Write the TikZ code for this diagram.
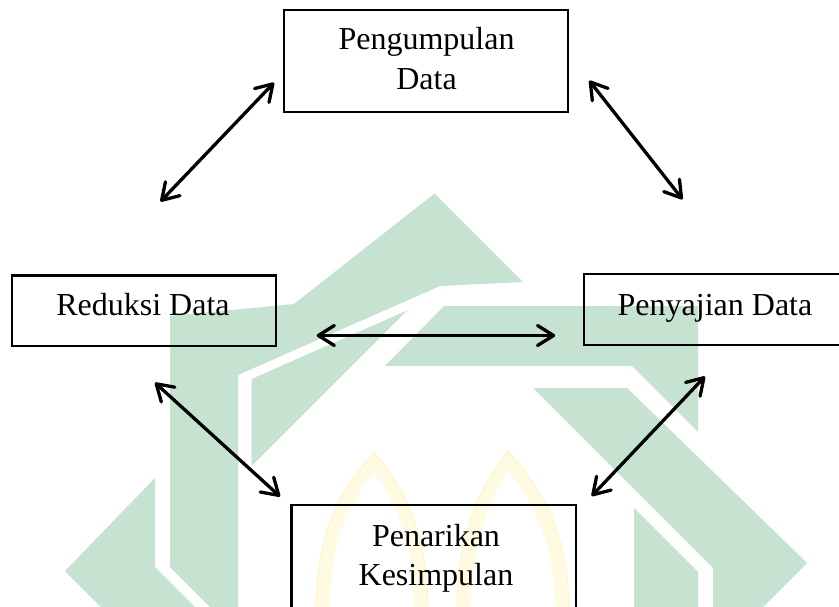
\documentclass[tikz,border=0pt]{standalone}
\usepackage{fontspec}
\setmainfont{Liberation Serif}
\usetikzlibrary{arrows.meta}
\definecolor{wmgreen}{RGB}{198,226,209}
\definecolor{wmyellow}{RGB}{255,251,226}
\definecolor{wmyedge}{RGB}{255,246,200}
\begin{document}
\begin{tikzpicture}[x=1pt,y=-1pt,
  box/.style={draw=black, line width=2.4pt, rectangle, inner sep=0pt},
  lbl/.style={font=\fontsize{32}{39.4}\selectfont, align=center, inner sep=0pt},
  link/.style={line width=3.3pt, line cap=round,
    {Straight Barb[length=16pt,width=20pt,round]}-{Straight Barb[length=16pt,width=20pt,round]}},
  wm/.style={fill=wmgreen, draw=none},
  arch/.style={draw=wmyellow, line width=13pt},
  archedge/.style={draw=wmyedge, line width=1.2pt}]
\useasboundingbox (0,0) rectangle (839,607);
\fill[white] (0,0) rectangle (839,607);
% watermark
\fill[wm] (434.5,193.6) -- (523,282) -- (440,286) -- (238,375) -- (238,607) -- (210,607) -- (170,567) -- (170,316) -- (294,304) -- cycle;
\fill[wm] (251.7,379) -- (251.7,466) -- (407,310.5) -- cycle;
\fill[wm] (385,366) -- (444,306) -- (698,306) -- (698,432) -- (632,366) -- cycle;
\fill[wm] (533,388) -- (627,388) -- (807,563) -- (763,607) -- (713,607) -- (713,568) -- cycle;
\fill[wm] (634,508) -- (698,572) -- (698,607) -- (634,607) -- cycle;
\fill[wm] (155,478) -- (155,567) -- (195,607) -- (101,607) -- (65,571) -- cycle;
\draw[arch] (323,615) .. controls (323,530) and (350,490) .. (374,462) .. controls (396,490) and (421,530) .. (421,615);
\draw[arch] (464,615) .. controls (464,530) and (488,490) .. (508,460) .. controls (532,490) and (562,530) .. (562,615);
\draw[archedge] (316,615) .. controls (316,525) and (345,485) .. (374,453) .. controls (401,485) and (428,525) .. (428,615);
\draw[archedge] (457,615) .. controls (457,525) and (483,485) .. (508,451) .. controls (537,485) and (569,525) .. (569,615);
% boxes
\node[box, minimum width=284pt, minimum height=102pt] (pd) at (426,61) {};
\node[box, minimum width=264pt, minimum height=70.4pt] (rd) at (143.9,310.8) {};
\node[box, minimum width=261pt, minimum height=71pt] (sd) at (714.5,309.5) {};
\node[box, minimum width=284.4pt, minimum height=110pt] (pk) at (433.8,560) {};
% texts
\node[lbl] (tpd) at (426.5,58.6) {Pengumpulan\\Data};
\node[lbl, anchor=base] (trd) at (143,316) {Reduksi Data};
\node[lbl, anchor=base] (tsd) at (715,315) {Penyajian Data};
\node[lbl] (tpk) at (436,558.2) {Penarikan\\Kesimpulan};
% arrow ends
\coordinate (a1s) at (160.5,201.5); \coordinate (a1e) at (274,82.7);
\coordinate (a2s) at (589.3,80.7); \coordinate (a2e) at (682.5,199.3);
\coordinate (a3s) at (316.7,335.5); \coordinate (a3e) at (555.2,335.5);
\coordinate (a4s) at (155,382.7); \coordinate (a4e) at (280,496.5);
\coordinate (a5s) at (705,376.5); \coordinate (a5e) at (591.7,496);
\draw[link] (a1s) -- (a1e);
\draw[link] (a2s) -- (a2e);
\draw[link] (a3s) -- (a3e);
\draw[link] (a4s) -- (a4e);
\draw[link] (a5s) -- (a5e);
\end{tikzpicture}
\end{document}
